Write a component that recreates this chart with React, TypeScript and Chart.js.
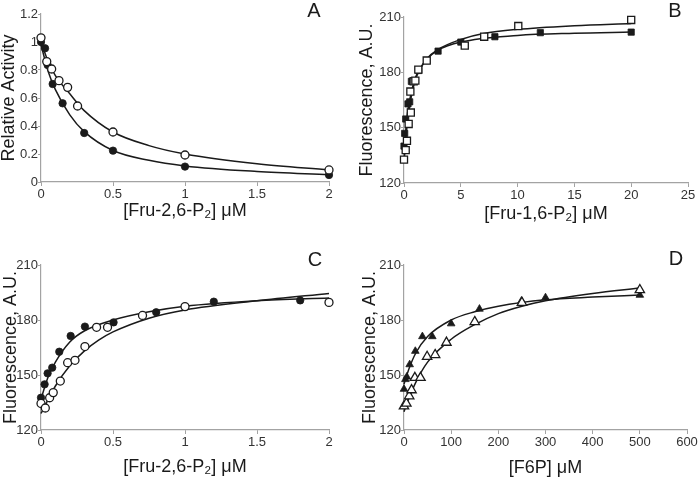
import React, { useEffect, useRef } from "react";
import { Chart, registerables } from "chart.js";

Chart.register(...registerables);

const FONT = "'Liberation Sans', Arial, Helvetica, sans-serif";
const AXIS = "#a3a3a3";
const INK = "#1a1a1a";
const TICKINK = "#333333";

// ---------- Panel A ----------
const aTitleX = "[Fru-2,6-P\u2082] \u03bcM";
const aTitleY = "Relative Activity";
const aTicksX = [0, 0.5, 1, 1.5, 2];
const aTicksY = [0, 0.2, 0.4, 0.6, 0.8, 1, 1.2];
const aFilledX = [0, 0.028, 0.04, 0.046, 0.081, 0.15, 0.3, 0.5, 1, 2];
const aFilledY = [1.0, 0.955, 0.86, 0.836, 0.7, 0.562, 0.35, 0.224, 0.11, 0.05];
const aOpenX = [0, 0.04, 0.074, 0.125, 0.185, 0.254, 0.5, 1, 2];
const aOpenY = [1.03, 0.86, 0.807, 0.724, 0.676, 0.543, 0.357, 0.193, 0.086];
const aFilledFitX = [0, 0.05, 0.1, 0.2, 0.3, 0.5, 0.75, 1, 1.5, 2];
const aFilledFitY = [0.98, 0.79, 0.66, 0.48, 0.36, 0.225, 0.155, 0.115, 0.075, 0.052];
const aOpenFitX = [0, 0.05, 0.1, 0.2, 0.3, 0.5, 0.75, 1, 1.5, 2];
const aOpenFitY = [1.0, 0.86, 0.76, 0.63, 0.51, 0.357, 0.26, 0.2, 0.13, 0.086];

// ---------- Panel B ----------
const bTitleX = "[Fru-1,6-P\u2082] \u03bcM";
const bTitleY = "Fluorescence, A.U.";
const bTicksX = [0, 5, 10, 15, 20, 25];
const bTicksY = [120, 150, 180, 210];
const bFilledX = [0, 0.06, 0.15, 0.35, 0.5, 0.65, 0.8, 1.3, 2, 3, 5, 8, 12, 20];
const bFilledY = [140, 146.9, 154.7, 162.9, 164, 175.1, 175.5, 181, 186.4, 191.5, 196.4, 199.3, 201.5, 201.8];
const bOpenX = [0, 0.15, 0.26, 0.41, 0.6, 0.56, 0.85, 1.0, 1.26, 2, 5.35, 7.06, 10.06, 20];
const bOpenY = [132.7, 137.8, 142.9, 152, 158.2, 169.6, 175.1, 175.5, 181.5, 186.4, 194.5, 199.3, 205.1, 208.4];
const bFilledFitX = [0, 0.25, 0.5, 1, 1.5, 2, 3, 5, 10, 15, 20];
const bFilledFitY = [136, 155, 165, 177, 183, 187, 192, 196.4, 200, 201.2, 201.8];
const bOpenFitX = [0, 0.25, 0.5, 1, 1.5, 2, 3, 5, 7, 10, 15, 20];
const bOpenFitY = [131, 150, 162, 176, 182.5, 187.3, 192.4, 197.8, 201, 203.3, 205.3, 206.5];

// ---------- Panel C ----------
const cTitleX = "[Fru-2,6-P\u2082] \u03bcM";
const cTitleY = "Fluorescence, A.U.";
const cTicksX = [0, 0.5, 1, 1.5, 2];
const cTicksY = [120, 150, 180, 210];
const cFilledX = [0, 0.025, 0.046, 0.078, 0.127, 0.206, 0.305, 0.504, 0.8, 1.2, 1.8];
const cFilledY = [137.6, 144.9, 150.9, 154, 162.7, 171.3, 176.4, 178.7, 184.2, 190, 190.7];
const cOpenX = [0, 0.03, 0.06, 0.085, 0.134, 0.185, 0.236, 0.305, 0.386, 0.462, 0.705, 1.0, 2.0];
const cOpenY = [134.5, 132, 137.6, 140.4, 146.7, 156.7, 158, 165.5, 176, 176, 182.5, 187.3, 189.6];
const cFilledFitX = [0, 0.05, 0.1, 0.2, 0.3, 0.5, 0.75, 1, 1.5, 2];
const cFilledFitY = [137, 149, 157, 168, 174, 180, 184.5, 187.5, 190.5, 192];
const cOpenFitX = [0, 0.1, 0.2, 0.3, 0.4, 0.5, 0.75, 1, 1.5, 2];
const cOpenFitY = [129, 144, 155, 163, 169, 173.5, 181, 185.5, 190.5, 194.5];

// ---------- Panel D ----------
const dTitleX = "[F6P] \u03bcM";
const dTitleY = "Fluorescence, A.U.";
const dTicksX = [0, 100, 200, 300, 400, 500, 600];
const dTicksY = [120, 150, 180, 210];
const dFilledX = [0, 0, 3, 6, 12, 24, 39, 60, 100, 160, 249, 300, 500];
const dFilledY = [133, 142.3, 147.6, 149, 155.7, 163, 171, 171, 178, 186, 190.4, 192.2, 193.6];
const dOpenX = [0, 5, 11, 16, 23, 35, 49, 66, 90, 150, 250, 500];
const dOpenY = [133, 134.5, 138.5, 141.8, 148.5, 148.5, 160, 161, 167.7, 179, 189.5, 196.4];
const dFilledFitX = [0, 10, 25, 50, 100, 150, 200, 300, 400, 500];
const dFilledFitY = [145, 153, 162, 171, 180, 184.5, 187.5, 191, 192.5, 193.6];
const dOpenFitX = [0, 10, 25, 50, 100, 150, 200, 250, 300, 400, 500];
const dOpenFitY = [130, 137, 146, 157, 169.5, 177.5, 183.5, 187.5, 190.5, 194.5, 197.5];

type Pt = { x: number; y: number };
const pts = (xs: number[], ys: number[]): Pt[] => xs.map((x, i) => ({ x, y: ys[i] }));

const letterPlugin = {
  id: "panelLetter",
  afterDraw(chart: any, _args: any, opts: any) {
    const ctx = chart.ctx;
    ctx.save();
    ctx.font = `20px ${FONT}`;
    ctx.fillStyle = INK;
    ctx.textAlign = "center";
    ctx.textBaseline = "middle";
    ctx.fillText(opts.text, opts.x, opts.y);
    ctx.restore();
  },
};

type Marker = { style: string; radius: number; filled: boolean };

type PanelCfg = {
  left: number; top: number; width: number; height: number;
  areaLeft: number; areaTop: number; areaRight: number; areaBottom: number;
  xMin: number; xMax: number; yMin: number; yMax: number;
  xTicks: number[]; yTicks: number[];
  xTitle: string; yTitle: string; xTitlePad: number; yTitlePad: number;
  letter: string; letterX: number; letterY: number;
  filled: Pt[]; open: Pt[]; filledFit: Pt[]; openFit: Pt[];
  filledMarker: Marker; openMarker: Marker;
};

function markerDs(data: Pt[], m: Marker) {
  return {
    data,
    showLine: false,
    pointStyle: m.style,
    pointRadius: m.radius,
    pointHoverRadius: m.radius,
    pointBackgroundColor: m.filled ? INK : "#ffffff",
    pointBorderColor: INK,
    pointBorderWidth: m.filled ? 0.8 : 1.3,
    clip: false as any,
  };
}

function fitDs(data: Pt[]) {
  return {
    data,
    showLine: true,
    pointRadius: 0,
    borderColor: INK,
    borderWidth: 1.5,
    cubicInterpolationMode: "monotone" as const,
    fill: false,
    clip: false as any,
  };
}

function Panel({ cfg }: { cfg: PanelCfg }) {
  const ref = useRef<HTMLCanvasElement | null>(null);
  useEffect(() => {
    if (!ref.current) return;
    const xh = cfg.height - cfg.areaBottom;
    const yw = cfg.areaLeft;
    const tickFont = { family: FONT, size: 13 };
    const titleFont = { family: FONT, size: 18, lineHeight: 1 };
    const chart = new Chart(ref.current, {
      type: "scatter",
      data: {
        datasets: [
          markerDs(cfg.open, cfg.openMarker),
          markerDs(cfg.filled, cfg.filledMarker),
          fitDs(cfg.openFit),
          fitDs(cfg.filledFit),
        ] as any,
      },
      plugins: [letterPlugin as any],
      options: {
        responsive: false,
        animation: false,
        devicePixelRatio: 1,
        events: [],
        layout: {
          padding: { left: 0, top: cfg.areaTop, right: cfg.width - cfg.areaRight, bottom: 0 },
        },
        plugins: {
          legend: { display: false },
          tooltip: { enabled: false },
          panelLetter: { text: cfg.letter, x: cfg.letterX, y: cfg.letterY },
        } as any,
        scales: {
          x: {
            type: "linear",
            min: cfg.xMin,
            max: cfg.xMax,
            afterBuildTicks: (s: any) => { s.ticks = cfg.xTicks.map((v) => ({ value: v })); },
            afterFit: (s: any) => { s.height = xh; },
            ticks: {
              font: tickFont, color: TICKINK, padding: 1, maxRotation: 0, autoSkip: false,
              callback: (v: any) => String(v),
            },
            grid: { display: true, drawOnChartArea: false, drawTicks: true, tickLength: 4, color: AXIS },
            border: { display: true, color: AXIS, width: 1.2 },
            title: {
              display: true, text: cfg.xTitle, font: titleFont, color: INK,
              padding: { top: 0, bottom: cfg.xTitlePad },
            },
          },
          y: {
            type: "linear",
            min: cfg.yMin,
            max: cfg.yMax,
            afterBuildTicks: (s: any) => { s.ticks = cfg.yTicks.map((v) => ({ value: v })); },
            afterFit: (s: any) => { s.width = yw; },
            ticks: {
              font: tickFont, color: TICKINK, padding: 0, autoSkip: false,
              callback: (v: any) => String(v),
            },
            grid: { display: true, drawOnChartArea: false, drawTicks: true, tickLength: 3, color: AXIS },
            border: { display: true, color: AXIS, width: 1.2 },
            title: {
              display: true, text: cfg.yTitle, font: titleFont, color: INK,
              padding: { top: cfg.yTitlePad, bottom: 0 },
            },
          },
        },
      } as any,
    });
    return () => chart.destroy();
  }, [cfg]);
  return (
    <canvas
      ref={ref}
      width={cfg.width}
      height={cfg.height}
      style={{ position: "absolute", left: cfg.left, top: cfg.top, width: cfg.width, height: cfg.height }}
    />
  );
}

const circleFilled: Marker = { style: "circle", radius: 3.7, filled: true };
const circleOpen: Marker = { style: "circle", radius: 4, filled: false };
const rectFilled: Marker = { style: "rect", radius: 4.4, filled: true };
const rectOpen: Marker = { style: "rect", radius: 5, filled: false };
const triFilled: Marker = { style: "triangle", radius: 4.4, filled: true };
const triOpen: Marker = { style: "triangle", radius: 5.4, filled: false };

const panels: PanelCfg[] = [
  {
    left: 0, top: 0, width: 350, height: 237,
    areaLeft: 41, areaTop: 14, areaRight: 329, areaBottom: 182,
    xMin: 0, xMax: 2, yMin: 0, yMax: 1.2, xTicks: aTicksX, yTicks: aTicksY,
    xTitle: aTitleX, yTitle: aTitleY, xTitlePad: 17, yTitlePad: 0,
    letter: "A", letterX: 314, letterY: 11,
    filled: pts(aFilledX, aFilledY), open: pts(aOpenX, aOpenY),
    filledFit: pts(aFilledFitX, aFilledFitY), openFit: pts(aOpenFitX, aOpenFitY),
    filledMarker: circleFilled, openMarker: circleOpen,
  },
  {
    left: 350, top: 0, width: 350, height: 237,
    areaLeft: 54, areaTop: 17, areaRight: 338, areaBottom: 183,
    xMin: 0, xMax: 25, yMin: 120, yMax: 210, xTicks: bTicksX, yTicks: bTicksY,
    xTitle: bTitleX, yTitle: bTitleY, xTitlePad: 14, yTitlePad: 8,
    letter: "B", letterX: 325, letterY: 11,
    filled: pts(bFilledX, bFilledY), open: pts(bOpenX, bOpenY),
    filledFit: pts(bFilledFitX, bFilledFitY), openFit: pts(bOpenFitX, bOpenFitY),
    filledMarker: rectFilled, openMarker: rectOpen,
  },
  {
    left: 0, top: 237, width: 350, height: 240,
    areaLeft: 41, areaTop: 28, areaRight: 329, areaBottom: 193,
    xMin: 0, xMax: 2, yMin: 120, yMax: 210, xTicks: cTicksX, yTicks: cTicksY,
    xTitle: cTitleX, yTitle: cTitleY, xTitlePad: 1, yTitlePad: 2,
    letter: "C", letterX: 315, letterY: 23,
    filled: pts(cFilledX, cFilledY), open: pts(cOpenX, cOpenY),
    filledFit: pts(cFilledFitX, cFilledFitY), openFit: pts(cOpenFitX, cOpenFitY),
    filledMarker: circleFilled, openMarker: circleOpen,
  },
  {
    left: 350, top: 237, width: 350, height: 240,
    areaLeft: 54, areaTop: 28, areaRight: 337, areaBottom: 193,
    xMin: 0, xMax: 600, yMin: 120, yMax: 210, xTicks: dTicksX, yTicks: dTicksY,
    xTitle: dTitleX, yTitle: dTitleY, xTitlePad: 0, yTitlePad: 11,
    letter: "D", letterX: 326, letterY: 22,
    filled: pts(dFilledX, dFilledY), open: pts(dOpenX, dOpenY),
    filledFit: pts(dFilledFitX, dFilledFitY), openFit: pts(dOpenFitX, dOpenFitY),
    filledMarker: triFilled, openMarker: triOpen,
  },
];

export default function App() {
  return (
    <div style={{ position: "absolute", left: 0, top: 0, width: 700, height: 477, background: "#ffffff", overflow: "hidden" }}>
      {panels.map((p, i) => (
        <Panel key={i} cfg={p} />
      ))}
    </div>
  );
}
